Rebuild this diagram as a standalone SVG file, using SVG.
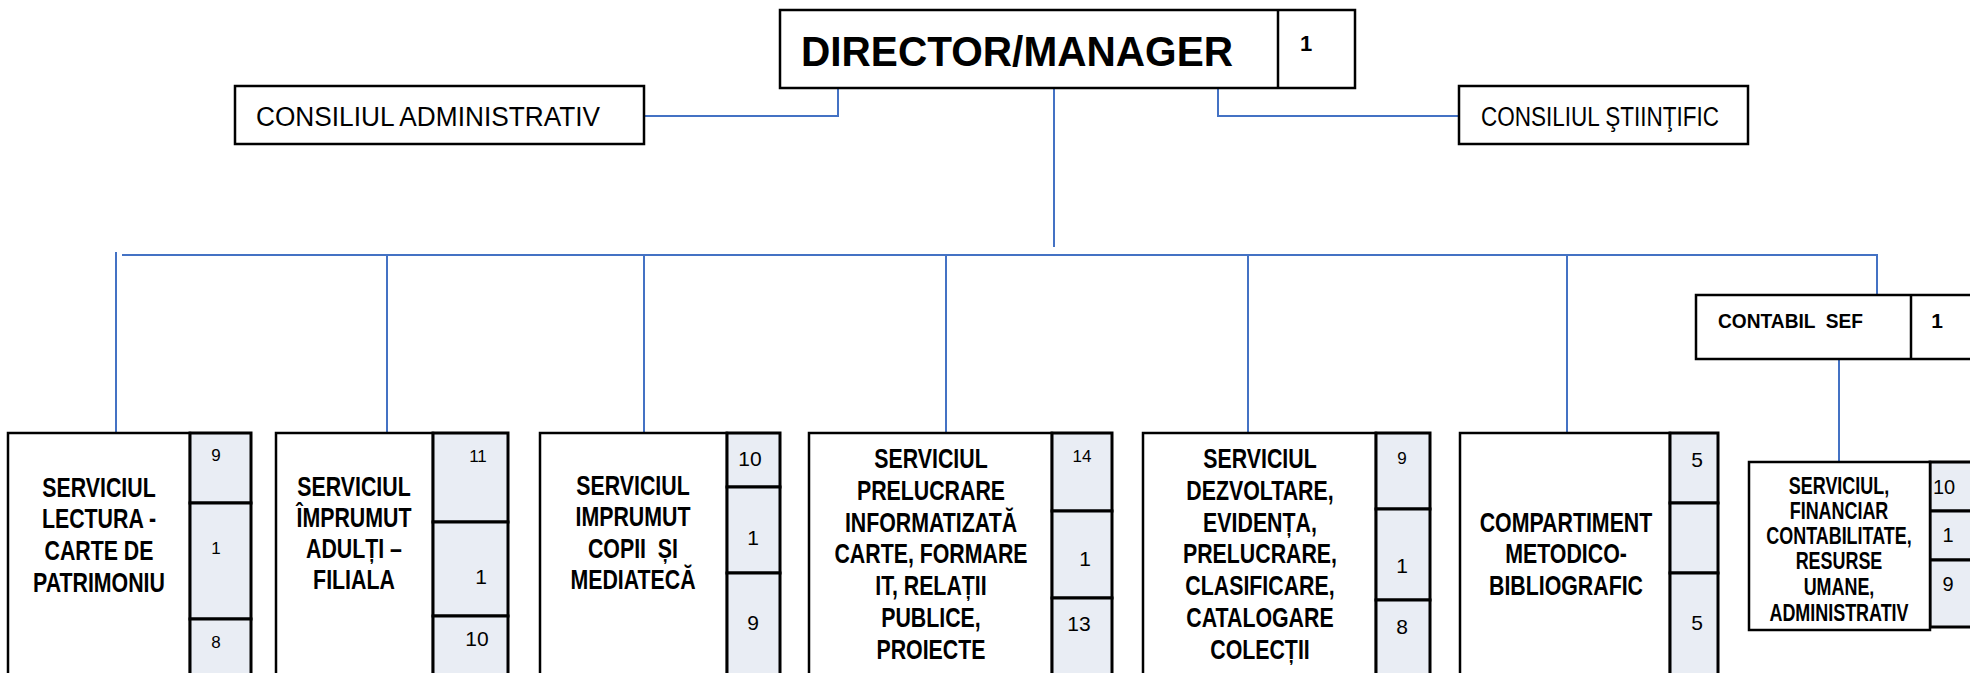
<svg xmlns="http://www.w3.org/2000/svg" width="1970" height="673" viewBox="0 0 1970 673">
<style>
.box{fill:#fff;stroke:#000;stroke-width:2.5}
.col{fill:#E9EDF4;stroke:#000;stroke-width:3}
.cn{fill:none;stroke:#4472C4;stroke-width:2}
.t{font-family:"Liberation Sans",Arial,sans-serif;font-weight:bold;font-size:27px;text-anchor:middle;fill:#000}
.ts{font-family:"Liberation Sans",Arial,sans-serif;font-weight:bold;font-size:23px;text-anchor:middle;fill:#000}
.n{font-family:"Liberation Sans",sans-serif;font-size:21px;text-anchor:middle;fill:#000}
.ns{font-family:"Liberation Sans",sans-serif;font-size:17px;text-anchor:middle;fill:#000}
.c{font-family:"Liberation Sans",sans-serif;font-size:27px;fill:#000}
</style>
<g id="connectors">
<path class="cn" d="M644,116 H838 V88"/>
<path class="cn" d="M1459,116 H1218 V88"/>
<path class="cn" d="M1054,88 V247"/>
<path class="cn" d="M122,255 H1877 V295"/>
<path class="cn" d="M116,252 V433"/>
<path class="cn" d="M387,255 V433"/>
<path class="cn" d="M644,255 V433"/>
<path class="cn" d="M946,255 V433"/>
<path class="cn" d="M1248,255 V433"/>
<path class="cn" d="M1567,255 V433"/>
<path class="cn" d="M1839,359 V462"/>
</g>
<g id="director">
<rect class="box" x="780" y="10" width="575" height="78"/>
<line x1="1278" y1="10" x2="1278" y2="88" stroke="#000" stroke-width="2.5"/>
<text x="801" y="66" font-family="Liberation Sans,sans-serif" font-weight="bold" font-size="43" textLength="432" lengthAdjust="spacingAndGlyphs">DIRECTOR/MANAGER</text>
<text x="1306" y="51" font-family="Liberation Sans,sans-serif" font-weight="bold" font-size="22" text-anchor="middle">1</text>
</g>
<g id="consiliul-administrativ">
<rect class="box" x="235" y="86" width="409" height="58"/>
<text class="c" x="256" y="126" textLength="344" lengthAdjust="spacingAndGlyphs">CONSILIUL ADMINISTRATIV</text>
</g>
<g id="consiliul-stiintific">
<rect class="box" x="1459" y="86" width="289" height="58"/>
<text class="c" x="1481" y="126" textLength="238" lengthAdjust="spacingAndGlyphs">CONSILIUL ŞTIINŢIFIC</text>
</g>
<g id="contabil-sef">
<rect class="box" x="1696" y="295" width="300" height="64"/>
<line x1="1911" y1="295" x2="1911" y2="359" stroke="#000" stroke-width="2.5"/>
<text x="1718" y="328" font-family="Liberation Sans,sans-serif" font-weight="bold" font-size="21" xml:space="preserve" textLength="145" lengthAdjust="spacingAndGlyphs">CONTABIL  SEF</text>
<text x="1937" y="328" font-family="Liberation Sans,sans-serif" font-weight="bold" font-size="21" text-anchor="middle">1</text>
</g>
<g id="serviciul-lectura">
<rect class="box" x="8" y="433" width="182" height="260"/>
<rect class="col" x="190" y="433" width="61" height="70"/>
<rect class="col" x="190" y="503" width="61" height="116"/>
<rect class="col" x="190" y="619" width="61" height="74"/>
<g transform="matrix(0.79 0 0 1 20.79 0)">
<text class="t" x="99" y="497">SERVICIUL</text>
<text class="t" x="99" y="528">LECTURA -</text>
<text class="t" x="99" y="560">CARTE DE</text>
<text class="t" x="99" y="592">PATRIMONIU</text>
</g>
<text class="ns" x="216" y="461">9</text>
<text class="ns" x="216" y="554">1</text>
<text class="ns" x="216" y="648">8</text>
</g>
<g id="serviciul-imprumut-adulti">
<rect class="box" x="276" y="433" width="157" height="260"/>
<rect class="col" x="433" y="433" width="75" height="89"/>
<rect class="col" x="433" y="522" width="75" height="94"/>
<rect class="col" x="433" y="616" width="75" height="77"/>
<g transform="matrix(0.79 0 0 1 74.34 0)">
<text class="t" x="354" y="496">SERVICIUL</text>
<text class="t" x="354" y="527">ÎMPRUMUT</text>
<text class="t" x="354" y="558">ADULȚI –</text>
<text class="t" x="354" y="589">FILIALA</text>
</g>
<text class="ns" x="478" y="462">11</text>
<text class="n" x="481" y="584">1</text>
<text class="n" x="477" y="646">10</text>
</g>
<g id="serviciul-imprumut-copii">
<rect class="box" x="540" y="433" width="187" height="260"/>
<rect class="col" x="727" y="433" width="53" height="54"/>
<rect class="col" x="727" y="487" width="53" height="86"/>
<rect class="col" x="727" y="573" width="53" height="120"/>
<g transform="matrix(0.79 0 0 1 132.93 0)">
<text class="t" x="633" y="495">SERVICIUL</text>
<text class="t" x="633" y="526">IMPRUMUT</text>
<text class="t" x="633" y="558" xml:space="preserve">COPII  ȘI</text>
<text class="t" x="633" y="589">MEDIATECĂ</text>
</g>
<text class="n" x="750" y="466">10</text>
<text class="n" x="753" y="545">1</text>
<text class="n" x="753" y="630">9</text>
</g>
<g id="serviciul-prelucrare">
<rect class="box" x="809" y="433" width="243" height="260"/>
<rect class="col" x="1052" y="433" width="60" height="78"/>
<rect class="col" x="1052" y="511" width="60" height="87"/>
<rect class="col" x="1052" y="598" width="60" height="95"/>
<g transform="matrix(0.79 0 0 1 195.51 0)">
<text class="t" x="931" y="468">SERVICIUL</text>
<text class="t" x="931" y="500">PRELUCRARE</text>
<text class="t" x="931" y="532">INFORMATIZATĂ</text>
<text class="t" x="931" y="563">CARTE, FORMARE</text>
<text class="t" x="931" y="595">IT, RELAȚII</text>
<text class="t" x="931" y="627">PUBLICE,</text>
<text class="t" x="931" y="659">PROIECTE</text>
</g>
<text class="ns" x="1082" y="462">14</text>
<text class="n" x="1085" y="566">1</text>
<text class="n" x="1079" y="631">13</text>
</g>
<g id="serviciul-dezvoltare">
<rect class="box" x="1143" y="433" width="233" height="260"/>
<rect class="col" x="1376" y="433" width="54" height="76"/>
<rect class="col" x="1376" y="509" width="54" height="91"/>
<rect class="col" x="1376" y="600" width="54" height="93"/>
<g transform="matrix(0.79 0 0 1 264.6 0)">
<text class="t" x="1260" y="468">SERVICIUL</text>
<text class="t" x="1260" y="500">DEZVOLTARE,</text>
<text class="t" x="1260" y="532">EVIDENȚA,</text>
<text class="t" x="1260" y="563">PRELUCRARE,</text>
<text class="t" x="1260" y="595">CLASIFICARE,</text>
<text class="t" x="1260" y="627">CATALOGARE</text>
<text class="t" x="1260" y="659">COLECȚII</text>
</g>
<text class="ns" x="1402" y="464">9</text>
<text class="n" x="1402" y="573">1</text>
<text class="n" x="1402" y="634">8</text>
</g>
<g id="compartiment-metodico">
<rect class="box" x="1460" y="433" width="210" height="260"/>
<rect class="col" x="1670" y="433" width="48" height="70"/>
<rect class="col" x="1670" y="503" width="48" height="70"/>
<rect class="col" x="1670" y="573" width="48" height="120"/>
<g transform="matrix(0.79 0 0 1 328.86 0)">
<text class="t" x="1566" y="532">COMPARTIMENT</text>
<text class="t" x="1566" y="563">METODICO-</text>
<text class="t" x="1566" y="595">BIBLIOGRAFIC</text>
</g>
<text class="n" x="1697" y="467">5</text>
<text class="n" x="1697" y="630">5</text>
</g>
<g id="serviciul-financiar">
<rect class="col" x="1930" y="462" width="60" height="49"/>
<rect class="col" x="1930" y="511" width="60" height="49"/>
<rect class="col" x="1930" y="560" width="60" height="67"/>
<rect class="box" x="1749" y="462" width="181" height="168"/>
<g transform="matrix(0.78 0 0 1 404.58 0)">
<text class="ts" x="1839" y="494">SERVICIUL,</text>
<text class="ts" x="1839" y="519">FINANCIAR</text>
<text class="ts" x="1839" y="544">CONTABILITATE,</text>
<text class="ts" x="1839" y="569">RESURSE</text>
<text class="ts" x="1839" y="595">UMANE,</text>
<text class="ts" x="1839" y="621">ADMINISTRATIV</text>
</g>
<text x="1933" y="494" font-family="Liberation Sans,sans-serif" font-size="20">10</text>
<text x="1948" y="542" font-family="Liberation Sans,sans-serif" font-size="20" text-anchor="middle">1</text>
<text x="1948" y="591" font-family="Liberation Sans,sans-serif" font-size="20" text-anchor="middle">9</text>
</g>
</svg>
